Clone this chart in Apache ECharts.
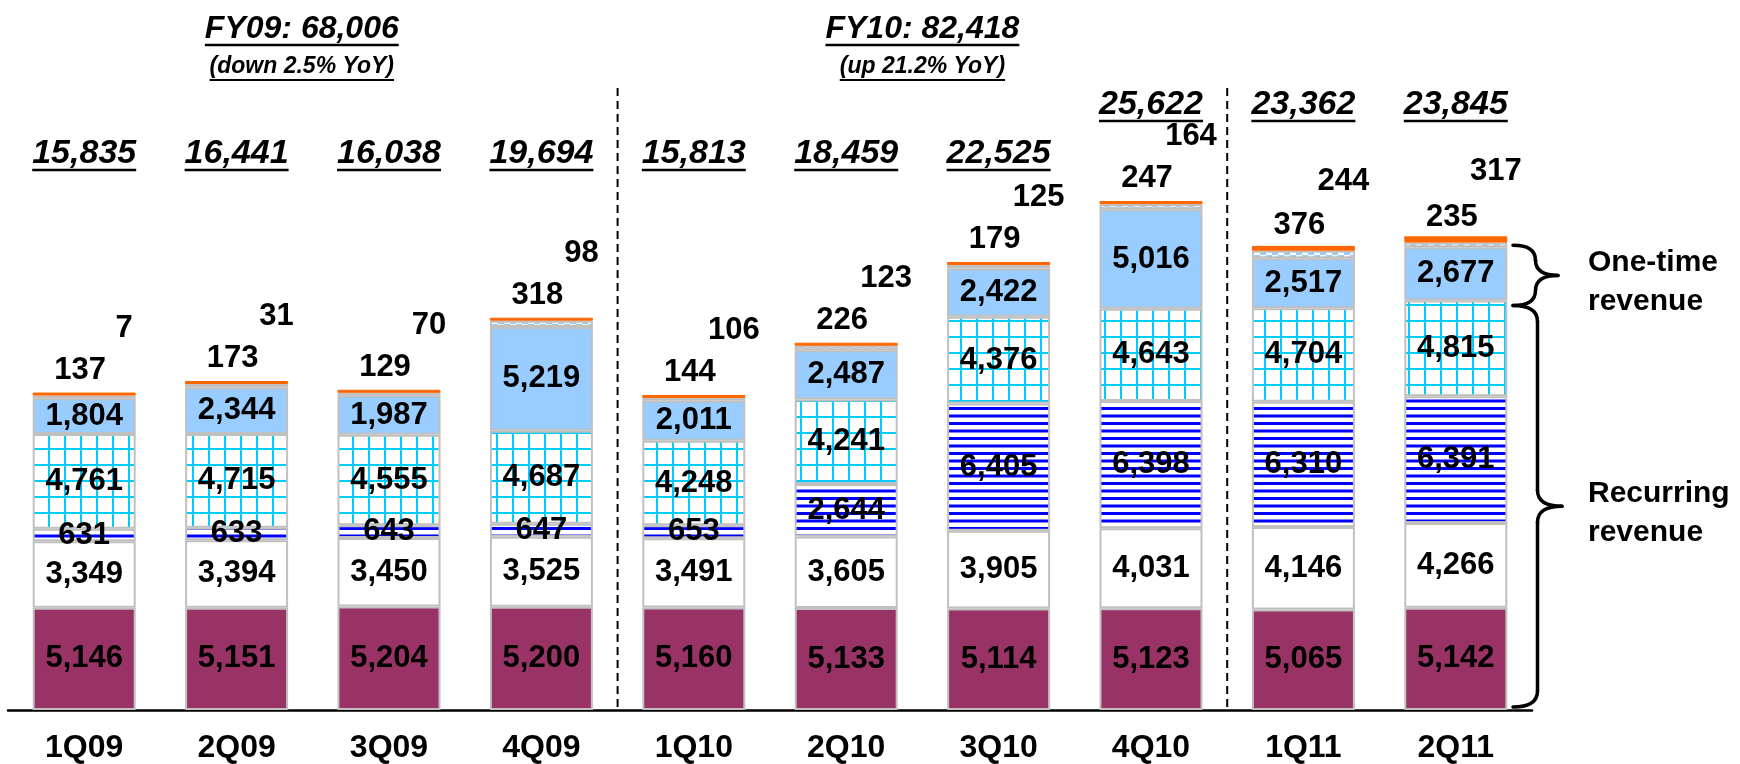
<!DOCTYPE html>
<html>
<head>
<meta charset="utf-8">
<script src="https://cdn.jsdelivr.net/npm/echarts@6/dist/echarts.min.js"></script>
<style>
  html, body { margin: 0; padding: 0; background: #fff; }
  #chart { width: 1740px; height: 764px; }
</style>
</head>
<body>
<div id="chart"></div>
<script>
// quarters on the x axis
const quarters = ["1Q09", "2Q09", "3Q09", "4Q09", "1Q10", "2Q10", "3Q10", "4Q10", "1Q11", "2Q11"];

// stacked segments, bottom to top
const segMaroon = [5146, 5151, 5204, 5200, 5160, 5133, 5114, 5123, 5065, 5142];
const segWhite = [3349, 3394, 3450, 3525, 3491, 3605, 3905, 4031, 4146, 4266];
const segStripes = [631, 633, 643, 647, 653, 2644, 6405, 6398, 6310, 6391];
const segGrid = [4761, 4715, 4555, 4687, 4248, 4241, 4376, 4643, 4704, 4815];
const segLightBlue = [1804, 2344, 1987, 5219, 2011, 2487, 2422, 5016, 2517, 2677];
const segChecker = [137, 173, 129, 318, 144, 226, 179, 247, 376, 235];
const segOrange = [7, 31, 70, 98, 106, 123, 125, 164, 244, 317];

// quarter totals as printed above the bars
const totals = [15835, 16441, 16038, 19694, 15813, 18459, 22525, 25622, 23362, 23845];

// fiscal year headers
const fyTitles = ["FY09: 68,006", "FY10: 82,418"];
const fySubs = ["(down 2.5% YoY)", "(up 21.2% YoY)"];
const fyFirst = ["1Q09", "1Q10"];
const fyLast = ["4Q09", "4Q10"];

const FONT = '"Liberation Sans", Arial, Helvetica, sans-serif';
const fmt = (v) => v.toLocaleString("en-US");

// --- fill patterns ---
function makeCanvas(w, h, draw) {
  const c = document.createElement("canvas");
  c.width = w;
  c.height = h;
  draw(c.getContext("2d"));
  return c;
}
const stripePattern = makeCanvas(8, 15, (g) => {
  g.fillStyle = "#fff";
  g.fillRect(0, 0, 8, 15);
  g.fillStyle = "#0000ff";
  g.fillRect(0, 2, 8, 3);
  g.fillRect(0, 9.5, 8, 3);
});
const gridPattern = makeCanvas(16, 16, (g) => {
  g.fillStyle = "#fff";
  g.fillRect(0, 0, 16, 16);
  g.fillStyle = "#00ccff";
  g.fillRect(0, 0, 2, 16);
  g.fillRect(0, 0, 16, 2);
});
const checkerPattern = makeCanvas(12, 6, (g) => {
  g.fillStyle = "#99ccff";
  g.fillRect(0, 0, 12, 6);
  g.fillStyle = "#fff";
  g.fillRect(6, 0, 6, 3);
  g.fillRect(0, 3, 6, 3);
});
const pat = (c) => ({ image: c, repeat: "repeat" });

const insideLabel = {
  show: true,
  position: "inside",
  color: "#000",
  fontSize: 31,
  fontWeight: "bold",
  fontFamily: FONT,
  textBorderWidth: 0,
  formatter: (p) => fmt(p.value),
};

function seg(name, data, fill, extra) {
  return Object.assign(
    {
      name,
      type: "bar",
      stack: "rev",
      data,
      barWidth: 103,
      itemStyle: { color: fill, borderColor: "#c0c0c0", borderWidth: 2 },
      label: insideLabel,
      emphasis: { disabled: true },
    },
    extra || {}
  );
}

const chart = echarts.init(document.getElementById("chart"), null, { renderer: "canvas" });

chart.setOption({
  animation: false,
  backgroundColor: "#fff",
  grid: { left: 8, right: 208, top: 114, bottom: 53, containLabel: false },
  xAxis: {
    type: "category",
    data: quarters,
    axisLine: { lineStyle: { color: "#000", width: 2.5 } },
    axisTick: { show: false },
    axisLabel: { color: "#000", fontSize: 32, fontWeight: "bold", fontFamily: FONT, margin: 22 },
  },
  yAxis: { type: "value", min: 0, max: 30000, show: false, splitLine: { show: false } },
  series: [
    seg("Maroon", segMaroon, "#993366"),
    seg("White", segWhite, "#ffffff"),
    seg("Stripes", segStripes, pat(stripePattern)),
    seg("Grid", segGrid, pat(gridPattern)),
    seg("LightBlue", segLightBlue, "#99ccff"),
    seg("Checker", segChecker, pat(checkerPattern), {
      label: Object.assign({}, insideLabel, { position: "top", distance: 5, offset: [-4, -5] }),
    }),
    seg("Orange", segOrange, "#ff6600", {
      barMinHeight: 3,
      itemStyle: { color: "#ff6600", borderColor: "#ff6600", borderWidth: 1 },
      label: Object.assign({}, insideLabel, { position: "top", distance: 5, offset: [40, -44] }),
    }),
  ],
});

// --- annotations placed from the axes ---
const measure = (() => {
  const g = document.createElement("canvas").getContext("2d");
  return (text, font) => {
    g.font = font;
    return g.measureText(text).width;
  };
})();
const xPix = (q) => chart.convertToPixel({ xAxisIndex: 0 }, q);
const yPix = (v) => chart.convertToPixel({ yAxisIndex: 0 }, v);
const baseY = yPix(0);

function underlinedText(x, y, text, size, weight, lineGap, lineW) {
  const font = `italic ${weight} ${size}px ${FONT}`;
  const w = measure(text, font);
  return [
    {
      type: "text",
      x, y,
      style: {
        text, fill: "#000", font,
        align: "center", verticalAlign: "middle",
      },
    },
    {
      type: "line",
      shape: { x1: x - w / 2, y1: y + lineGap, x2: x + w / 2, y2: y + lineGap },
      style: { stroke: "#000", lineWidth: lineW },
    },
  ];
}

// curly brace built from quadratic curves and straight runs
function brace(x, y1, y2, w) {
  const sx = x + w * 0.5;
  const ym = (y1 + y2) / 2;
  const r = Math.min(16, (y2 - y1) / 4);
  const st = { stroke: "#000", lineWidth: 3.5, fill: null, lineCap: "round" };
  const curve = (x1, yy1, cx, cy, x2, yy2) => ({
    type: "bezierCurve",
    shape: { x1, y1: yy1, cpx1: cx, cpy1: cy, x2, y2: yy2 },
    style: st,
  });
  const line = (x1, yy1, x2, yy2) => ({
    type: "line",
    shape: { x1, y1: yy1, x2, y2: yy2 },
    style: st,
  });
  return [
    curve(x, y1, sx, y1, sx, y1 + r),
    line(sx, y1 + r, sx, ym - r),
    curve(sx, ym - r, sx, ym, x + w, ym),
    curve(x + w, ym, sx, ym, sx, ym + r),
    line(sx, ym + r, sx, y2 - r),
    curve(sx, y2 - r, sx, y2, x, y2),
  ];
}

const graphics = [];

// quarter totals, raised when the bar reaches too high
quarters.forEach((q, i) => {
  const stackTop = segMaroon[i] + segWhite[i] + segStripes[i] + segGrid[i] +
    segLightBlue[i] + segChecker[i] + segOrange[i];
  const topPx = yPix(stackTop);
  const y = topPx - 110 < 151 ? 105 : 154;
  graphics.push(...underlinedText(xPix(q), y, fmt(totals[i]), 34, "bold", 16, 2.5));
});

// fiscal year headers and dashed separators
const fyNudge = [-11, 0]; // header placement tweak (pixels)
fyTitles.forEach((t, i) => {
  const cx = (xPix(fyFirst[i]) + xPix(fyLast[i])) / 2 + fyNudge[i];
  graphics.push(...underlinedText(cx, 29, t, 32, "bold", 16, 2.5));
  graphics.push(...underlinedText(cx, 67, fySubs[i], 23, "bold", 13, 2));
});
[["4Q09", "1Q10"], ["4Q10", "1Q11"]].forEach(([a, b]) => {
  const x = (xPix(a) + xPix(b)) / 2;
  graphics.push({
    type: "line",
    shape: { x1: x, y1: 88, x2: x, y2: baseY },
    style: { stroke: "#000", lineWidth: 2, lineDash: [8, 5] },
  });
});

// braces at the right of the last bar
const li = quarters.length - 1;
const recurringTop = segMaroon[li] + segWhite[li] + segStripes[li] + segGrid[li];
const oneTimeTop = recurringTop + segLightBlue[li];
const bx = 1513;
const yOneTop = yPix(oneTimeTop) - 2;
const yRecTop = yPix(recurringTop) + 5;
const yBottom = baseY - 3;
graphics.push(...brace(bx, yOneTop, yRecTop, 45));
graphics.push(...brace(bx, yRecTop, yBottom, 49));
const sideFont = `bold 30px ${FONT}`;
graphics.push({
  type: "text",
  x: 1588, y: (yOneTop + yRecTop) / 2 + 7,
  style: { text: "One-time\nrevenue", font: sideFont, fill: "#000", lineHeight: 39, verticalAlign: "middle" },
});
graphics.push({
  type: "text",
  x: 1588, y: (yRecTop + yBottom) / 2 + 7,
  style: { text: "Recurring\nrevenue", font: sideFont, fill: "#000", lineHeight: 39, verticalAlign: "middle" },
});

chart.setOption({ graphic: graphics });
</script>
</body>
</html>
